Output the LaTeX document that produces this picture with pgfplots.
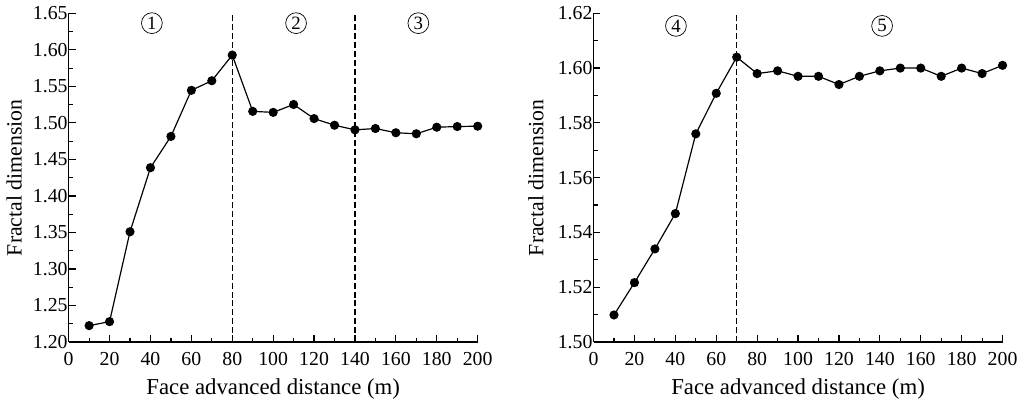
\documentclass[border=0pt]{standalone}
\usepackage{pgfplots}
\pgfplotsset{compat=1.18}
\usepackage{fontspec}
\setmainfont{Liberation Serif}
\begin{document}
\begin{tikzpicture}[font=\fontsize{10}{12}\selectfont]
\path (0,0) rectangle (512pt,201.5pt);
\tikzset{
  mydash/.style={line width=0.6pt, dash pattern=on 3pt off 1.5pt},
  circ/.style={circle, draw, line width=0.35pt, inner sep=0pt, minimum size=10.5pt, font=\fontsize{9.5}{10}\selectfont},
}
\pgfplotsset{
  myax/.style={
    scale only axis, width=206.5pt, height=166pt,
    axis x line*=bottom, axis y line*=left,
    axis line style={-, line width=0.7pt},
    xmin=0, xmax=200, xtick={0,20,...,200}, minor x tick num=1,
    tick align=inside,
    major tick length=3.5pt, minor tick length=2pt,
    every tick/.style={black, line width=0.6pt},
    /pgf/number format/assume math mode=true,
    yticklabel style={/pgf/number format/fixed, /pgf/number format/zerofill, /pgf/number format/precision=2, xshift=3pt},
    xticklabel style={/pgf/number format/fixed, yshift=-1.5pt},
    tick label style={font=\fontsize{10}{12}\selectfont},
    xlabel={Face advanced distance (m)},
    ylabel={Fractal dimension},
    xlabel style={at={(axis description cs:0.5,-0.1416)}, anchor=center, font=\fontsize{11.5}{13}\selectfont},
    clip=false,
  },
  myline/.style={black, line width=0.6pt, mark=*, mark size=2pt, mark options={fill=black}},
}
\begin{axis}[myax, at={(33pt,31pt)}, anchor=origin,
  ymin=1.20, ymax=1.65, ytick={1.20,1.25,...,1.66}, minor y tick num=1,
  ylabel style={at={(axis description cs:-0.133,0.5)}, anchor=center, font=\fontsize{11}{13}\selectfont}]
\addplot[myline] coordinates {
(10,1.2225) (20,1.228) (30,1.351) (40,1.4387) (50,1.4815) (60,1.5446) (70,1.5577) (80,1.5928)
(90,1.5158) (100,1.5144) (110,1.5252) (120,1.5059) (130,1.4968) (140,1.4905) (150,1.4923)
(160,1.4865) (170,1.4851) (180,1.4941) (190,1.495) (200,1.4955)};
\draw[mydash] (axis cs:80,1.20) -- (axis cs:80,1.65);
\draw[mydash] (axis cs:140,1.20) -- (axis cs:140,1.65);
\node[circ] at (axis cs:40.7,1.6365) {1};
\node[circ] at (axis cs:111.2,1.6365) {2};
\node[circ] at (axis cs:171,1.6365) {3};
\end{axis}
\begin{axis}[myax, at={(298pt,31pt)}, anchor=origin,
  ymin=1.50, ymax=1.62, ytick={1.50,1.52,...,1.63}, minor y tick num=1,
  ylabel style={at={(axis description cs:-0.141,0.5)}, anchor=center, font=\fontsize{11}{13}\selectfont}]
\addplot[myline] coordinates {
(10,1.5099) (20,1.5217) (30,1.534) (40,1.5469) (50,1.576) (60,1.5908) (70,1.604)
(80,1.598) (90,1.599) (100,1.597) (110,1.597) (120,1.594) (130,1.597) (140,1.599)
(150,1.600) (160,1.600) (170,1.597) (180,1.600) (190,1.598) (200,1.601)};
\draw[mydash] (axis cs:70,1.50) -- (axis cs:70,1.62);
\node[circ] at (axis cs:40.3,1.6154) {4};
\node[circ] at (axis cs:141.1,1.6154) {5};
\end{axis}
\end{tikzpicture}
\end{document}
